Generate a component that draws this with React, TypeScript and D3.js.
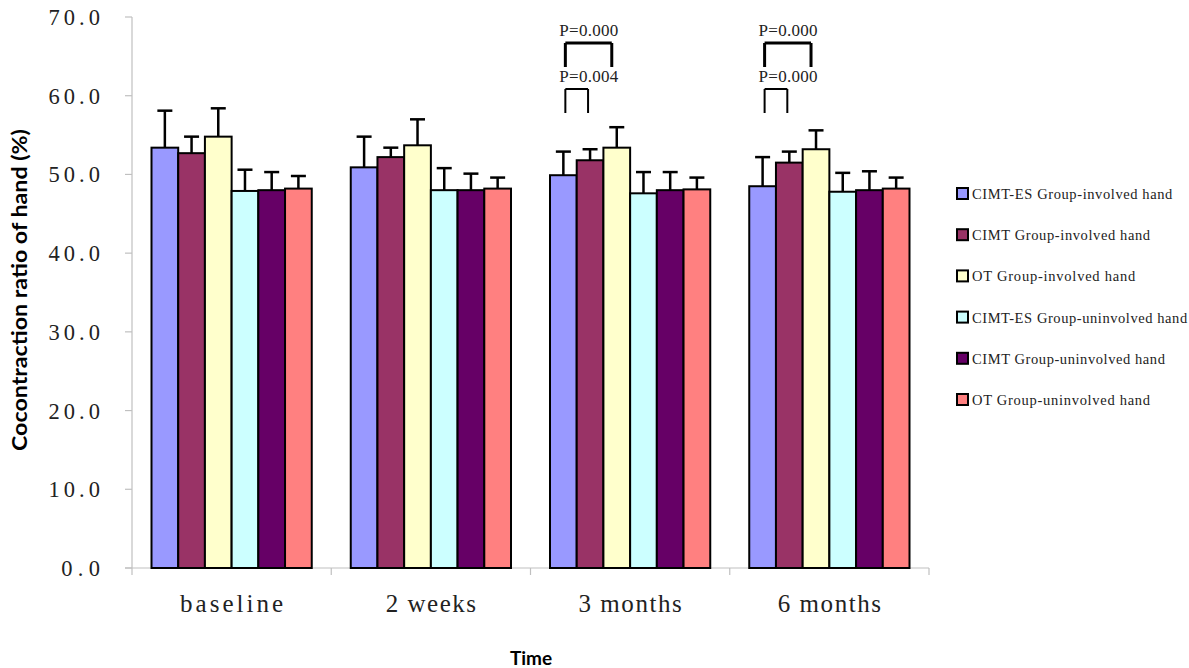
import React from "react";
import * as d3 from "d3";

const categories = ["baseline", "2 weeks", "3 months", "6 months"];
const seriesNames = [
  "CIMT-ES Group-involved hand",
  "CIMT Group-involved hand",
  "OT Group-involved hand",
  "CIMT-ES Group-uninvolved hand",
  "CIMT Group-uninvolved hand",
  "OT Group-uninvolved hand",
];
const seriesColors = ["#9999FF", "#993366", "#FFFFCC", "#CCFFFF", "#660066", "#FF8080"];
// means per series, one value per category
const means = [
  [53.4, 50.9, 49.9, 48.5],
  [52.7, 52.2, 51.8, 51.5],
  [54.8, 53.7, 53.4, 53.2],
  [47.9, 48.0, 47.6, 47.8],
  [48.0, 48.0, 48.0, 48.0],
  [48.2, 48.2, 48.1, 48.2],
];
// upper error (SD)
const errors = [
  [4.7, 3.9, 3.0, 3.7],
  [2.1, 1.2, 1.4, 1.4],
  [3.6, 3.3, 2.6, 2.4],
  [2.7, 2.8, 2.7, 2.4],
  [2.3, 2.1, 2.3, 2.4],
  [1.6, 1.4, 1.5, 1.4],
];
const yTicks = [0, 10, 20, 30, 40, 50, 60, 70];
// significance annotations
const annotations = [
  { cat: "3 months", from: 0, to: 2, label: "P=0.000", level: 0 },
  { cat: "3 months", from: 0, to: 1, label: "P=0.004", level: 1 },
  { cat: "6 months", from: 0, to: 2, label: "P=0.000", level: 0 },
  { cat: "6 months", from: 0, to: 1, label: "P=0.000", level: 1 },
];

const W = 1189;
const H = 668;
const serif = "'Liberation Serif', 'DejaVu Serif', serif";
const sans = "Lato, 'Open Sans', sans-serif";

export default function App() {
  const left = 132, right = 929, top = 17, bottom = 568;
  const y = d3.scaleLinear().domain([0, 70]).range([bottom, top]);
  const x0 = d3.scaleBand<string>().domain(categories).range([left, right]).paddingInner(0).paddingOuter(0);
  const bw = x0.bandwidth();
  const x1 = d3.scaleBand<number>().domain(d3.range(seriesNames.length)).range([19.5, bw - 19.5]).padding(0);
  const sw = x1.bandwidth();

  return (
    <svg width={W} height={H} style={{ position: "absolute", left: 0, top: 0, background: "#fff" }}>
      {/* y axis */}
      <line x1={left} x2={left} y1={top} y2={bottom} stroke="#c0c0c0" strokeWidth={1.2} />
      {yTicks.map((t) => {
        const s = d3.format(".1f")(t);
        const len = s.length * 12.9;
        return (
          <g key={t}>
            <line x1={left - 7} x2={left} y1={y(t)} y2={y(t)} stroke="#c0c0c0" strokeWidth={1.2} />
            <text x={100 - len} y={y(t) + 8} fontFamily={serif} fontSize={22.5} fill="#222" textLength={len} lengthAdjust="spacing">
              {s}
            </text>
          </g>
        );
      })}
      {/* x axis */}
      <line x1={left - 7} x2={right} y1={bottom} y2={bottom} stroke="#c0c0c0" strokeWidth={1.2} />
      {[...categories.map((c) => x0(c)!), right].map((xx, i) => (
        <line key={i} x1={xx} x2={xx} y1={bottom} y2={bottom + 7} stroke="#c0c0c0" strokeWidth={1.2} />
      ))}
      {categories.map((c) => {
        const len = c.length * 12.9;
        return (
          <text key={c} x={x0(c)! + bw / 2 - len / 2} y={612} fontFamily={serif} fontSize={25} fill="#222" textLength={len} lengthAdjust="spacing">
            {c}
          </text>
        );
      })}
      {/* bars */}
      {seriesNames.map((s, si) =>
        categories.map((c, ci) => {
          const bx = x0(c)! + x1(si)!;
          const v = means[si][ci];
          return (
            <rect key={s + c} x={bx} y={y(v)} width={sw} height={y(0) - y(v)} fill={seriesColors[si]} stroke="#000" strokeWidth={2} />
          );
        })
      )}
      {/* error bars */}
      {seriesNames.map((s, si) =>
        categories.map((c, ci) => {
          const cx = x0(c)! + x1(si)! + sw / 2;
          const v = means[si][ci];
          const e = v + errors[si][ci];
          return (
            <g key={"e" + s + c} stroke="#000" strokeWidth={2.5}>
              <line x1={cx} x2={cx} y1={y(v)} y2={y(e)} />
              <line x1={cx - 7.5} x2={cx + 7.5} y1={y(e)} y2={y(e)} />
            </g>
          );
        })
      )}
      {/* annotations */}
      {annotations.map((a, i) => {
        const xa = x0(a.cat)! + x1(a.from)! + sw / 2 + 2;
        const xb = x0(a.cat)! + x1(a.to)! + sw / 2 - (a.to === 2 ? 5 : 2);
        const hy = a.level === 0 ? 43 : 89;
        const sw2 = a.level === 0 ? 3 : 2;
        return (
          <g key={i}>
            <text x={xa - 6} y={hy - 7} fontFamily={serif} fontSize={17} fill="#222" textLength={59} lengthAdjust="spacing">
              {a.label}
            </text>
            <line x1={xa} x2={xb} y1={hy} y2={hy} stroke="#000" strokeWidth={sw2} />
            <line x1={xa} x2={xa} y1={hy} y2={hy + 24} stroke="#000" strokeWidth={sw2} />
            <line x1={xb} x2={xb} y1={hy} y2={hy + 24} stroke="#000" strokeWidth={sw2} />
          </g>
        );
      })}
      {/* legend */}
      {seriesNames.map((s, i) => {
        const ly = 194 + i * 41.2;
        return (
          <g key={"l" + s}>
            <rect x={957} y={ly - 6} width={11} height={11} fill={seriesColors[i]} stroke="#000" strokeWidth={2} />
            <text x={972} y={ly + 5} fontFamily={serif} fontSize={14.5} fill="#222" textLength={s.length * 7.42} lengthAdjust="spacing">
              {s}
            </text>
          </g>
        );
      })}
      {/* axis titles */}
      <text
        transform={`translate(27,290) rotate(-90)`}
        textAnchor="middle"
        fontFamily={sans}
        fontWeight="bold"
        fontSize={20}
        fill="#000"
        textLength={322}
        lengthAdjust="spacingAndGlyphs"
      >
        Cocontraction ratio of hand (%)
      </text>
      <text x={531} y={665} textAnchor="middle" fontFamily={sans} fontWeight="bold" fontSize={19} fill="#000">
        Time
      </text>
    </svg>
  );
}
